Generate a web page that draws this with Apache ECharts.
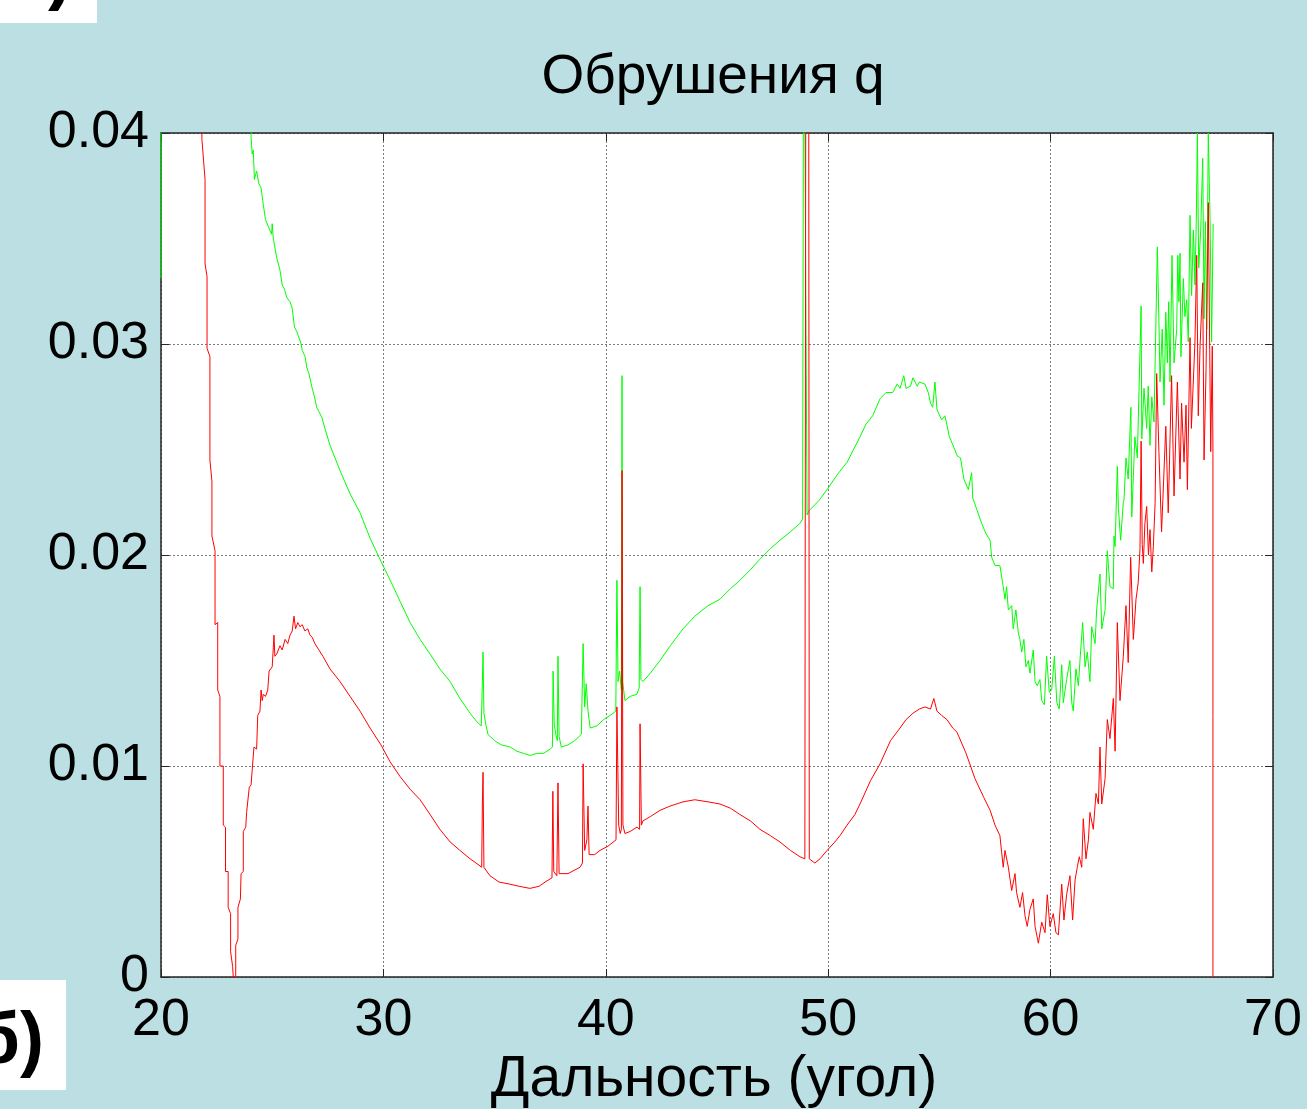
<!DOCTYPE html>
<html>
<head>
<meta charset="utf-8">
<script src="https://cdn.jsdelivr.net/npm/echarts@6/dist/echarts.min.js"></script>
<style>
html,body{margin:0;padding:0;background:#BBDFE2;}
#chart{width:1307px;height:1109px;}
</style>
</head>
<body>
<div id="chart"></div>
<script>
// ---- data (x = angle, y = q) ----
const titleText = 'Обрушения q';
const xName = 'Дальность (угол)';
const xTicks = [20, 30, 40, 50, 60, 70];
const yTicks = [0, 0.01, 0.02, 0.03, 0.04];

// green series; 0.05 marks values running above the top of the axes
const greenData = [
[20,0.0331],[20,0.05],[24.0,0.05],
[24.05,0.0398],[24.1,0.0390],[24.15,0.0392],[24.2,0.0378],[24.3,0.0382],[24.4,0.0376],[24.5,0.0374],[24.6,0.0366],[24.7,0.0359],[24.85,0.0355],[24.97,0.0352],[25.0,0.0357],[25.05,0.0350],[25.2,0.0341],[25.35,0.0335],[25.45,0.0328],[25.55,0.0326],[25.66,0.0322],[25.8,0.0320],[25.9,0.0317],[26.0,0.0308],[26.1,0.0306],[26.17,0.0304],[26.3,0.0300],[26.35,0.0297],[26.48,0.0294],[26.55,0.0289],[26.65,0.0286],[26.8,0.0279],[26.9,0.0275],[27.0,0.0270],[27.1,0.0268],[27.24,0.0265],[27.37,0.0260],
[27.6,0.0252],[28.05,0.0240],[28.5,0.0229],[28.95,0.0220],[29.4,0.0208],[29.89,0.0197],[30.4,0.0186],[30.75,0.0178],[31.2,0.0168],[31.65,0.0160],[32.1,0.0153],[32.54,0.0146],[33.0,0.0140],[33.44,0.0132],[33.9,0.0125],[34.2,0.0121],[34.4,0.0119],[34.45,0.0140],[34.48,0.0154],[34.52,0.0125],[34.6,0.0120],[34.7,0.0115],[35.0,0.0112],[35.3,0.0110],[35.7,0.0109],[36.0,0.0107],[36.3,0.0106],[36.6,0.0105],[36.9,0.0106],[37.2,0.0106],[37.5,0.0108],[37.6,0.0109],[37.63,0.0145],[37.68,0.0120],[37.75,0.0115],[37.82,0.0112],[37.85,0.0152],[37.9,0.0114],[38.0,0.0109],[38.3,0.0110],[38.6,0.0112],[38.9,0.0115],[38.98,0.0158],[39.05,0.0128],[39.12,0.0139],[39.2,0.0126],[39.3,0.0118],[39.6,0.0119],[39.9,0.0122],[40.2,0.0124],[40.45,0.0126],[40.5,0.0188],[40.55,0.0140],[40.62,0.0145],[40.7,0.0136],[40.73,0.0285],[40.76,0.0140],[40.86,0.0131],[41.1,0.0133],[41.4,0.0134],[41.5,0.0137],[41.54,0.0185],[41.58,0.0141],[41.67,0.0140],[42.0,0.0144],[42.44,0.0150],[42.9,0.0157],[43.47,0.0165],[44.0,0.0171],[44.6,0.0176],[45.13,0.0179],[45.6,0.0184],[46.03,0.0188],[46.5,0.0193],[46.93,0.0198],[47.4,0.0203],[47.83,0.0207],[48.3,0.0211],[48.73,0.0215],[48.85,0.0217],[48.9,0.05],[48.98,0.05],[49.05,0.0219],[49.14,0.0221],[49.6,0.0226],[49.95,0.0231],[50.4,0.0238],[50.85,0.0244],[51.43,0.0256],[51.7,0.0262],[52.0,0.0266],[52.33,0.0274],[52.6,0.0277],[52.9,0.0277],[53.1,0.0281],[53.23,0.0279],[53.4,0.0285],[53.5,0.0279],[53.7,0.0280],[53.81,0.0284],[54.0,0.0280],[54.1,0.0282],[54.35,0.0281],[54.5,0.0277],[54.6,0.0272],[54.7,0.0270],[54.8,0.0282],[54.89,0.0269],[55.1,0.0264],[55.25,0.0266],[55.45,0.0256],[55.65,0.0251],[55.8,0.0247],[55.95,0.0246],[56.1,0.0236],[56.3,0.0231],[56.45,0.0239],[56.5,0.0227],[56.7,0.0221],[56.9,0.0215],[57.1,0.0210],[57.28,0.0207],[57.35,0.0199],[57.5,0.0195],
[57.72,0.0195],[57.87,0.0185],[57.95,0.0179],[58.02,0.0185],[58.10,0.0174],[58.25,0.0176],[58.32,0.0165],[58.44,0.0174],[58.55,0.0163],[58.62,0.0160],[58.70,0.0154],[58.80,0.0160],[58.89,0.0147],[59.0,0.0150],[59.07,0.0144],[59.22,0.0155],[59.30,0.0140],[59.40,0.0138],[59.52,0.0141],[59.60,0.0131],[59.72,0.0129],[59.82,0.0152],[59.94,0.0135],[60.05,0.0136],[60.17,0.0152],[60.28,0.0130],[60.39,0.0127],[60.50,0.0148],[60.57,0.0130],[60.72,0.0141],[60.87,0.0150],[60.95,0.0130],[61.02,0.0126],[61.14,0.0146],[61.25,0.0138],[61.32,0.0150],[61.44,0.0168],[61.55,0.0147],[61.65,0.0154],[61.77,0.0140],[61.85,0.0166],[62.0,0.0158],[62.07,0.0174],[62.22,0.0191],[62.30,0.0165],[62.45,0.0174],[62.55,0.0202],[62.67,0.0185],[62.82,0.0184],[62.85,0.0209],[62.90,0.0204],[63.0,0.0242],[63.05,0.0222],[63.15,0.0207],[63.27,0.0225],[63.30,0.0226],[63.39,0.0246],[63.49,0.0236],[63.61,0.0270],[63.65,0.0218],[63.79,0.0256],[63.90,0.0246],[64.07,0.0318],[64.10,0.0255],[64.20,0.0279],[64.32,0.0260],[64.39,0.0280],[64.47,0.0252],[64.55,0.0275],[64.65,0.0263],[64.80,0.0346],[64.87,0.0311],[64.92,0.0282],[65.02,0.0307],[65.10,0.0271],[65.18,0.0315],[65.25,0.0291],[65.31,0.0320],[65.37,0.0282],[65.46,0.0342],[65.55,0.0291],[65.67,0.0307],[65.72,0.0342],[65.77,0.0320],[65.82,0.0343],[65.86,0.0294],[65.97,0.0331],[66.04,0.0313],[66.12,0.0321],[66.19,0.0301],[66.27,0.0361],[66.34,0.0323],[66.42,0.0354],[66.49,0.0328],[66.55,0.0358],[66.60,0.0400],[66.66,0.0336],[66.75,0.0354],[66.84,0.0388],[66.90,0.0312],[66.96,0.0358],[67.02,0.0307],[67.09,0.0400],[67.17,0.0359],[67.24,0.0301],[67.31,0.0357]
];

// red series; 0.05 marks values running above the top of the axes
const redData = [
[21.80,0.05],[21.84,0.0397],[21.98,0.0378],[21.98,0.0338],[22.07,0.0332],[22.07,0.0298],[22.2,0.0294],[22.2,0.0245],[22.29,0.0235],[22.29,0.0209],[22.43,0.0202],[22.43,0.0167],[22.55,0.0168],[22.55,0.0136],[22.65,0.0133],[22.65,0.0100],[22.8,0.0100],[22.8,0.0072],[22.9,0.0071],[22.9,0.0050],[23.02,0.0050],[23.02,0.0033],[23.13,0.0030],[23.13,0.0012],[23.22,0.0005],[23.25,0.0],[23.36,0.0],[23.36,0.0015],[23.46,0.0018],[23.46,0.0033],[23.57,0.0037],[23.6,0.0049],[23.7,0.0050],[23.7,0.0069],[23.81,0.0071],[23.85,0.0078],[23.93,0.0078],[23.97,0.0090],[24.05,0.0091],[24.1,0.0098],[24.18,0.0109],[24.3,0.0108],[24.35,0.0124],[24.45,0.0126],[24.5,0.0136],[24.55,0.0131],[24.6,0.0134],[24.7,0.0133],[24.8,0.0136],[24.86,0.0145],[25.0,0.0147],[25.05,0.0156],[25.08,0.0162],[25.12,0.0152],[25.2,0.0153],[25.35,0.0157],[25.45,0.0155],[25.58,0.0160],[25.7,0.0158],[25.8,0.0162],[25.9,0.0164],[25.98,0.0171],[26.05,0.0165],[26.15,0.0168],[26.25,0.0166],[26.35,0.0167],[26.47,0.0164],[26.6,0.0165],[26.7,0.0162],[26.8,0.0161],[26.92,0.0158],[27.1,0.0155],[27.28,0.0152],
[27.6,0.0146],[28.05,0.0140],[28.5,0.0133],[28.95,0.0126],[29.4,0.0118],[29.89,0.0110],[30.3,0.0102],[30.75,0.0095],[31.2,0.0089],[31.65,0.0084],[32.1,0.0077],[32.54,0.0070],[33.0,0.0064],[33.44,0.0060],[33.9,0.0056],[34.3,0.0053],[34.42,0.0052],[34.45,0.0082],[34.48,0.0097],[34.52,0.0052],[34.79,0.0048],[35.2,0.0045],[35.69,0.0044],[36.1,0.0043],[36.59,0.0042],[37.0,0.0043],[37.27,0.0045],[37.58,0.0047],[37.62,0.0088],[37.66,0.0050],[37.8,0.0048],[37.85,0.0092],[37.9,0.0049],[38.3,0.0049],[38.84,0.0052],[38.95,0.0054],[38.98,0.0101],[39.05,0.0060],[39.15,0.0065],[39.2,0.0081],[39.25,0.0058],[39.5,0.0058],[39.74,0.0060],[40.1,0.0062],[40.46,0.0065],[40.5,0.0128],[40.58,0.0072],[40.65,0.0068],[40.7,0.0070],[40.73,0.0240],[40.77,0.0072],[40.86,0.0068],[41.1,0.0069],[41.4,0.0071],[41.52,0.0070],[41.54,0.0120],[41.6,0.0072],[41.67,0.0074],[42.0,0.0076],[42.44,0.0079],[42.89,0.0081],[43.47,0.0083],[44.0,0.0084],[44.6,0.0083],[45.13,0.0082],[45.6,0.0080],[46.03,0.0077],[46.5,0.0074],[46.93,0.0070],[47.4,0.0067],[47.83,0.0064],[48.3,0.0060],[48.73,0.0057],[48.95,0.0056],[49.0,0.05],[49.12,0.05],[49.15,0.0056],[49.4,0.0054],[49.63,0.0056],[49.95,0.0060],[50.3,0.0064],[50.53,0.0067],[50.85,0.0072],[51.2,0.0077],[51.43,0.0082],[51.9,0.0093],[52.33,0.0101],[52.8,0.0112],[53.23,0.0118],[53.5,0.0122],[53.81,0.0125],[54.1,0.0127],[54.35,0.0128],[54.6,0.0127],[54.75,0.0132],[54.89,0.0126],[55.1,0.0124],[55.34,0.0122],[55.6,0.0118],[55.79,0.0116],[56.2,0.0106],[56.6,0.0094],[57.0,0.0085],[57.28,0.0079],[57.5,0.0072],
[57.72,0.0067],[57.80,0.0059],[57.87,0.0052],[57.95,0.0060],[58.10,0.0052],[58.25,0.0041],[58.40,0.0049],[58.47,0.0040],[58.62,0.0033],[58.74,0.0040],[58.85,0.0029],[58.95,0.0024],[59.07,0.0032],[59.22,0.0037],[59.30,0.0024],[59.45,0.0016],[59.60,0.0026],[59.75,0.0021],[59.85,0.0039],[59.97,0.0024],[60.12,0.0030],[60.24,0.0021],[60.35,0.0020],[60.50,0.0044],[60.60,0.0027],[60.72,0.0039],[60.87,0.0048],[60.99,0.0027],[61.10,0.0046],[61.20,0.0052],[61.29,0.0057],[61.40,0.0052],[61.47,0.0075],[61.59,0.0056],[61.70,0.0065],[61.77,0.0078],[61.92,0.0070],[62.04,0.0087],[62.15,0.0082],[62.22,0.0109],[62.30,0.0082],[62.45,0.0094],[62.55,0.0122],[62.67,0.0113],[62.82,0.0132],[62.90,0.0107],[63.0,0.0168],[63.12,0.0131],[63.27,0.0152],[63.39,0.0176],[63.49,0.0149],[63.60,0.0199],[63.72,0.0160],[63.84,0.0179],[63.94,0.0187],[64.02,0.0203],[64.07,0.0254],[64.12,0.0205],[64.17,0.0196],[64.24,0.0215],[64.32,0.0223],[64.40,0.0200],[64.47,0.0212],[64.55,0.0192],[64.62,0.0204],[64.70,0.0225],[64.77,0.0286],[64.87,0.0249],[64.99,0.0211],[65.18,0.0261],[65.29,0.0220],[65.44,0.0285],[65.55,0.0228],[65.70,0.0282],[65.82,0.0236],[65.89,0.0272],[66.0,0.0244],[66.09,0.0271],[66.15,0.0231],[66.27,0.0303],[66.33,0.0260],[66.49,0.0301],[66.57,0.0342],[66.64,0.0266],[66.72,0.0299],[66.84,0.0329],[66.90,0.0245],[66.99,0.0288],[67.09,0.0367],[67.20,0.0249],[67.27,0.0299],[67.30,0.0248],[67.30,0]
];

// ---- chart ----
const FONT = '"Liberation Sans", Arial, Helvetica, sans-serif';
const frameColor = '#262626';
const chart = echarts.init(document.getElementById('chart'), null, {renderer: 'canvas'});

const baseX = {
  type: 'value', min: xTicks[0], max: xTicks[xTicks.length - 1], interval: 10
};
const baseY = {
  type: 'value', min: yTicks[0], max: yTicks[yTicks.length - 1], interval: 0.01
};

chart.setOption({
  backgroundColor: '#BBDFE2',
  animation: false,
  grid: {
    left: 161, right: 34, top: 133, bottom: 132,
    show: true, backgroundColor: '#ffffff', borderWidth: 0
  },
  xAxis: [
    Object.assign({}, baseX, {
      position: 'bottom',
      axisLine: {show: true, onZero: false, lineStyle: {color: frameColor, width: 1.5}},
      axisTick: {show: true, inside: true, length: 8, lineStyle: {color: frameColor}},
      axisLabel: {show: true, fontSize: 52, color: '#000', fontFamily: FONT, margin: 18},
      splitLine: {show: true, lineStyle: {color: '#7a7a7a', type: [2, 2], width: 1}}
    }),
    Object.assign({}, baseX, {
      position: 'top',
      axisLine: {show: true, onZero: false, lineStyle: {color: frameColor, width: 1.5}},
      axisTick: {show: true, inside: true, length: 8, lineStyle: {color: frameColor}},
      axisLabel: {show: false},
      splitLine: {show: false}
    })
  ],
  yAxis: [
    Object.assign({}, baseY, {
      position: 'left',
      axisLine: {show: true, onZero: false, lineStyle: {color: frameColor, width: 1.5}},
      axisTick: {show: true, inside: true, length: 8, lineStyle: {color: frameColor}},
      axisLabel: {show: true, fontSize: 52, color: '#000', fontFamily: FONT, margin: 12,
        padding: [6, 0, 0, 0],
        formatter: function (v) { return v === 0 ? '0' : v.toFixed(2); }},
      splitLine: {show: true, lineStyle: {color: '#7a7a7a', type: [2, 2], width: 1}}
    }),
    Object.assign({}, baseY, {
      position: 'right',
      axisLine: {show: true, onZero: false, lineStyle: {color: frameColor, width: 1.5}},
      axisTick: {show: true, inside: true, length: 8, lineStyle: {color: frameColor}},
      axisLabel: {show: false},
      splitLine: {show: false}
    })
  ],
  graphic: [
    {type: 'text', x: 713, y: 78, z: 10,
      style: {text: titleText, font: '55px ' + FONT, fill: '#000', textAlign: 'center', textVerticalAlign: 'middle'}},
    {type: 'text', x: 714, y: 1080, z: 10,
      style: {text: xName, font: '57px ' + FONT, fill: '#000', textAlign: 'center', textVerticalAlign: 'middle'}},
    {type: 'rect', shape: {x: 0, y: 0, width: 97, height: 23}, style: {fill: '#ffffff'}, z: 5},
    {type: 'text', x: 72, y: -24, z: 6,
      style: {text: 'а)', font: 'bold 72px ' + FONT, fill: '#000', textAlign: 'right', textVerticalAlign: 'middle'}},
    {type: 'rect', shape: {x: 0, y: 980, width: 66, height: 110}, style: {fill: '#ffffff'}, z: 5},
    {type: 'text', x: 44, y: 1043, z: 6,
      style: {text: 'б)', font: 'bold 72px ' + FONT, fill: '#000', textAlign: 'right', textVerticalAlign: 'middle'}}
  ],
  series: [
    {type: 'line', name: 'green', data: greenData, xAxisIndex: 0, yAxisIndex: 0,
      showSymbol: false, symbol: 'none', smooth: false, clip: true,
      lineStyle: {color: '#00FF00', width: 1}, z: 3},
    {type: 'line', name: 'red', data: redData, xAxisIndex: 0, yAxisIndex: 0,
      showSymbol: false, symbol: 'none', smooth: false, clip: true,
      lineStyle: {color: '#FF0000', width: 1}, z: 4}
  ]
});
</script>
</body>
</html>
